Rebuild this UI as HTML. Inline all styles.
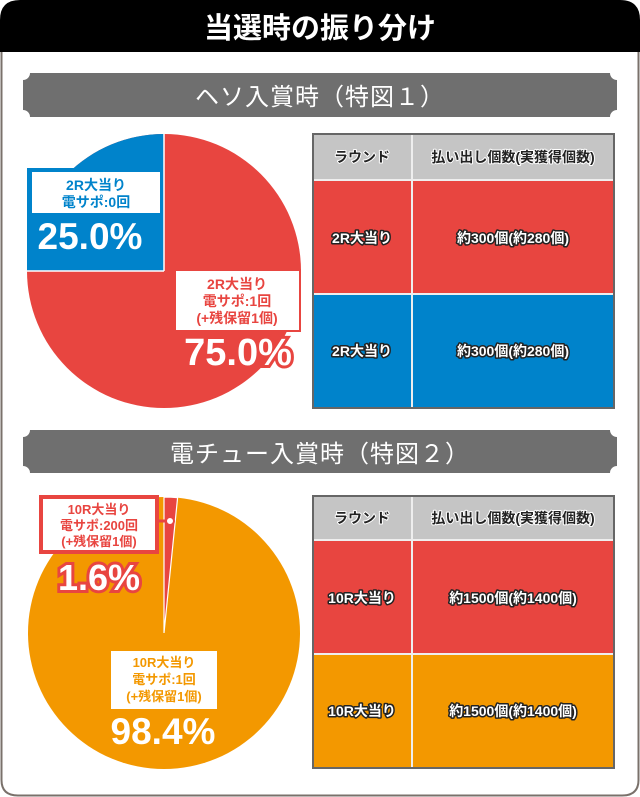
<!DOCTYPE html>
<html><head><meta charset="utf-8"><style>
html,body{margin:0;padding:0;background:#fff;}
svg{display:block;}
text{font-family:"Liberation Sans","Noto Sans CJK JP",sans-serif;font-weight:bold;}
</style></head><body>
<svg width="640" height="797" viewBox="0 0 640 797" xmlns="http://www.w3.org/2000/svg">
<path d="M1.5 20 Q1.5 1.5 20 1.5 L620 1.5 Q638.5 1.5 638.5 20 L638.5 780 Q638.5 795.5 622 795.5 L18 795.5 Q1.5 795.5 1.5 780 Z" fill="#fff" stroke="#7a716b" stroke-width="2"/>
<path d="M0 20 Q0 0 20 0 L620 0 Q640 0 640 20 L640 52 L0 52 Z" fill="#000"/>
<text x="320" y="38" font-size="29" fill="#fff" text-anchor="middle">当選時の振り分け</text>

<g fill="#6f6f6f">
<path d="M30 73 L610 73 A7 7 0 0 0 617 80 L617 110 A7 7 0 0 0 610 117 L30 117 A7 7 0 0 0 23 110 L23 80 A7 7 0 0 0 30 73 Z"/>
<path d="M30 430 L610 430 A7 7 0 0 0 617 437 L617 466 A7 7 0 0 0 610 473 L30 473 A7 7 0 0 0 23 466 L23 437 A7 7 0 0 0 30 430 Z"/>
</g>
<text x="320" y="105" font-size="24" fill="#fff" text-anchor="middle" style="font-weight:normal" letter-spacing="1">ヘソ入賞時（特図１）</text>
<text x="320" y="462" font-size="24" fill="#fff" text-anchor="middle" style="font-weight:normal" letter-spacing="1">電チュー入賞時（特図２）</text>

<!-- pie 1 -->
<circle cx="164" cy="271" r="137" fill="#e84540"/>
<path d="M164 271 L164 134 A137 137 0 0 0 27 271 Z" fill="#0083cb"/>
<rect x="27" y="168" width="137" height="103" fill="#0083cb"/>
<line x1="164" y1="134" x2="164" y2="271" stroke="#fff" stroke-width="1.5"/>
<line x1="27" y1="271" x2="164" y2="271" stroke="#fff" stroke-width="1.5"/>
<rect x="32" y="172" width="128" height="41" fill="#fff"/>
<text x="96" y="190" font-size="14" fill="#0083cb" text-anchor="middle">2R大当り</text>
<text x="96" y="207" font-size="14" fill="#0083cb" text-anchor="middle">電サポ:0回</text>
<text x="90" y="249" font-size="37" fill="#fff" stroke="#0083cb" stroke-width="5" paint-order="stroke" text-anchor="middle">25.0%</text>
<rect x="174" y="269" width="127" height="63" fill="#e84540"/>
<rect x="176" y="271" width="123" height="59" fill="#fff"/>
<text x="237" y="289" font-size="14" fill="#e84540" text-anchor="middle">2R大当り</text>
<text x="237" y="306" font-size="14" fill="#e84540" text-anchor="middle">電サポ:1回</text>
<text x="237" y="323" font-size="14" fill="#e84540" text-anchor="middle">(+残保留1個)</text>
<text x="238" y="365" font-size="38" fill="#fff" stroke="#e84540" stroke-width="6" paint-order="stroke" text-anchor="middle">75.0%</text>

<!-- table 1 -->
<rect x="313" y="134" width="301" height="274" fill="#c5c5c5" stroke="#666" stroke-width="2"/>
<rect x="314" y="180" width="299" height="114" fill="#e84540"/>
<rect x="314" y="294" width="299" height="113" fill="#0083cb"/>
<g stroke="#eee" stroke-width="2"><line x1="412" y1="135" x2="412" y2="407"/><line x1="314" y1="180" x2="613" y2="180"/><line x1="314" y1="294" x2="613" y2="294"/></g>
<g font-size="14" text-anchor="middle" stroke-linejoin="round">
<text x="362" y="162" fill="#222" stroke="#fff" stroke-width="2" paint-order="stroke">ラウンド</text>
<text x="513" y="162" fill="#222" stroke="#fff" stroke-width="2" paint-order="stroke">払い出し個数(実獲得個数)</text>
<text x="362" y="243" fill="#fff" stroke="#222" stroke-width="3" paint-order="stroke">2R大当り</text>
<text x="513" y="243" fill="#fff" stroke="#222" stroke-width="3" paint-order="stroke">約300個(約280個)</text>
<text x="362" y="356" fill="#fff" stroke="#222" stroke-width="3" paint-order="stroke">2R大当り</text>
<text x="513" y="356" fill="#fff" stroke="#222" stroke-width="3" paint-order="stroke">約300個(約280個)</text>
</g>

<!-- pie 2 -->
<circle cx="164" cy="633" r="136" fill="#f39800"/>
<path d="M164 633 L164 497 A136 136 0 0 1 177.6 497.7 Z" fill="#e84540" stroke="#fff" stroke-width="1.2"/>
<rect x="41" y="497" width="116" height="55" fill="#fff" stroke="#e84540" stroke-width="4"/>
<line x1="157" y1="521" x2="170" y2="521" stroke="#e84540" stroke-width="3"/>
<circle cx="170" cy="521" r="4" fill="#fff" stroke="#e84540" stroke-width="2"/>
<text x="99" y="514" font-size="13" fill="#e84540" text-anchor="middle">10R大当り</text>
<text x="99" y="530" font-size="13" fill="#e84540" text-anchor="middle">電サポ:200回</text>
<text x="99" y="546" font-size="13" fill="#e84540" text-anchor="middle">(+残保留1個)</text>
<text x="99" y="590" font-size="36" fill="#fff" stroke="#e84540" stroke-width="6" paint-order="stroke" text-anchor="middle">1.6%</text>
<rect x="111" y="651" width="106" height="58" fill="#fff"/>
<text x="164" y="667" font-size="13" fill="#f39800" text-anchor="middle">10R大当り</text>
<text x="164" y="684" font-size="13" fill="#f39800" text-anchor="middle">電サポ:1回</text>
<text x="164" y="701" font-size="13" fill="#f39800" text-anchor="middle">(+残保留1個)</text>
<text x="163" y="744" font-size="37" fill="#fff" text-anchor="middle">98.4%</text>

<!-- table 2 -->
<rect x="313" y="496" width="301" height="272" fill="#c5c5c5" stroke="#666" stroke-width="2"/>
<rect x="314" y="540" width="299" height="114" fill="#e84540"/>
<rect x="314" y="654" width="299" height="113" fill="#f39800"/>
<g stroke="#eee" stroke-width="2"><line x1="412" y1="497" x2="412" y2="767"/><line x1="314" y1="540" x2="613" y2="540"/><line x1="314" y1="654" x2="613" y2="654"/></g>
<g font-size="14" text-anchor="middle" stroke-linejoin="round">
<text x="362" y="523" fill="#222" stroke="#fff" stroke-width="2" paint-order="stroke">ラウンド</text>
<text x="513" y="523" fill="#222" stroke="#fff" stroke-width="2" paint-order="stroke">払い出し個数(実獲得個数)</text>
<text x="362" y="603" fill="#fff" stroke="#222" stroke-width="3" paint-order="stroke">10R大当り</text>
<text x="513" y="603" fill="#fff" stroke="#222" stroke-width="3" paint-order="stroke">約1500個(約1400個)</text>
<text x="362" y="716" fill="#fff" stroke="#222" stroke-width="3" paint-order="stroke">10R大当り</text>
<text x="513" y="716" fill="#fff" stroke="#222" stroke-width="3" paint-order="stroke">約1500個(約1400個)</text>
</g>
</svg>
</body></html>
